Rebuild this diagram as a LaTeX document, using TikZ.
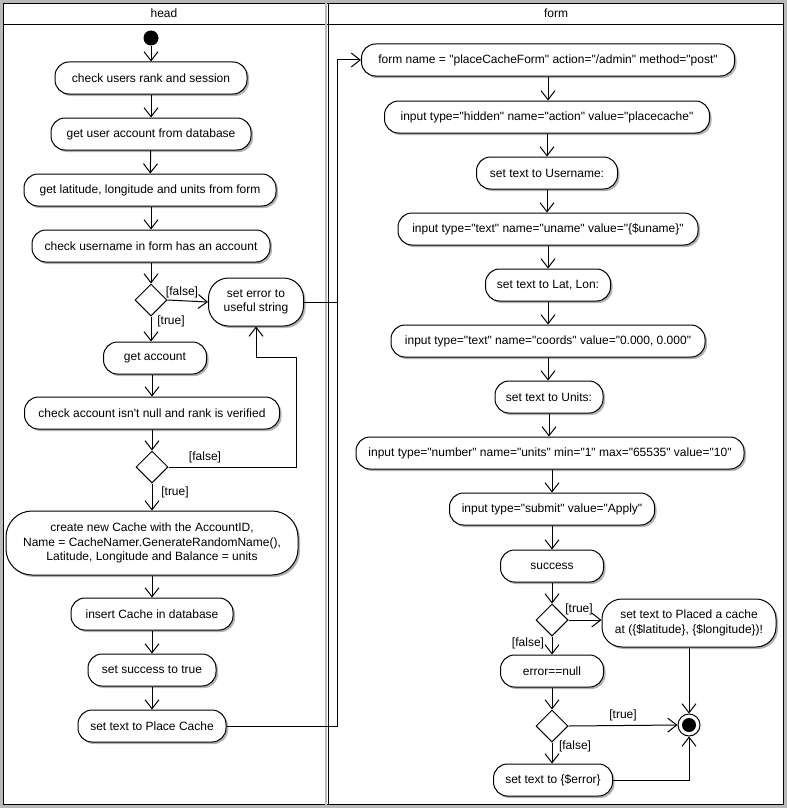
\documentclass[tikz,border=0pt]{standalone}
\usepackage{fontspec}
\setmainfont{Liberation Sans}[Ligatures=TeXOff]
\usetikzlibrary{arrows.meta,shapes.geometric,shadows}
\begin{document}
\begin{tikzpicture}[x=1pt,y=-1pt,
 every node/.style={font=\fontsize{12}{14.5}\selectfont},
 act/.style={draw, line width=1pt, fill=white, rounded corners=14pt, minimum height=32pt, inner sep=2pt, align=center,
   drop shadow={shadow xshift=2pt,shadow yshift=-2pt,fill=black,opacity=0.3}},
 dec/.style={draw, line width=1pt, diamond, minimum width=32pt, minimum height=32pt, inner sep=0pt, fill=white},
 arr/.style={line width=1pt, -{Straight Barb[length=9pt,width=14pt,line width=1pt]}},
 ln/.style={line width=1pt},
 lbl/.style={inner sep=0pt}
]
\useasboundingbox (0,0) rectangle (787,808);
% frame
\draw[gray!55, line width=3pt] (1.5,1.5) rectangle (785.5,806.5);
\draw[line width=1pt] (3.5,3.5) rectangle (783.5,804.5);
\draw[line width=1pt] (3.5,25) -- (783.5,25);
\draw[gray!55, line width=1.5pt] (326,3.5) -- (326,804.5);
\draw[line width=1pt] (328,3.5) -- (328,804.5);
\node (hhead) at (164,13) {head};
\node (hform) at (556,13) {form};

% head lane
\node[circle, fill=black, minimum size=15pt, inner sep=0pt] (start) at (151,38) {};
\node[act, minimum width=192pt] (a1) at (151,78) {check users rank and session};
\node[act, minimum width=200pt] (a2) at (151,134) {get user account from database};
\node[act, minimum width=252pt] (a3) at (150,190) {get latitude, longitude and units from form};
\node[act, minimum width=238pt] (a4) at (151,246) {check username in form has an account};
\node[dec] (d1) at (151,300) {};
\node[act, minimum width=95pt, minimum height=48pt, rounded corners=20pt] (seterr) at (256,302) {set error to\\useful string};
\node[act, minimum width=103pt] (getacc) at (155,358) {get account};
\node[act, minimum width=255pt] (a5) at (152,413) {check account isn't null and rank is verified};
\node[dec] (d2) at (152,467) {};
\node[act, minimum width=292pt, minimum height=64pt, rounded corners=26pt] (create) at (152,543) {create new Cache with the AccountID,\\Name = CacheNamer.GenerateRandomName(),\\Latitude, Longitude and Balance = units};
\node[act, minimum width=162pt] (insert) at (152,614) {insert Cache in database};
\node[act, minimum width=128pt] (succ) at (152,670) {set success to true};
\node[act, minimum width=148pt] (place) at (152,726) {set text to Place Cache};

\draw[arr] (start) -- (a1);
\draw[arr] (a1) -- (a2);
\draw[arr] (a2) -- (a3);
\draw[arr] (a3.south -| a4) -- (a4);
\draw[arr] (a4) -- (d1);
\draw[arr] (d1.east) -- (seterr.west);
\node[lbl] (l1) at (182,292) {[false]};
\draw[arr] (d1.south) -- (d1.south |- getacc.north);
\node[lbl] (l2) at (171,321) {[true]};
\draw[arr] (getacc.south -| a5) -- (a5);
\draw[arr] (a5) -- (d2);
\coordinate (lp) at (296,357);
\draw[arr] (d2.east) -| (lp) -| (seterr.south);
\node[lbl] (l3) at (205,457) {[false]};
\draw[arr] (d2) -- (create);
\node[lbl] (l4) at (175,492) {[true]};
\draw[arr] (create) -- (insert);
\draw[arr] (insert) -- (succ);
\draw[arr] (succ) -- (place);

% form lane
\node[act, minimum width=373pt] (f1) at (548,60) {form name = "placeCacheForm" action="/admin" method="post"};
\node[act, minimum width=325pt] (f2) at (547,117) {input type="hidden" name="action" value="placecache"};
\node[act, minimum width=141pt] (f3) at (547,173) {set text to Username:};
\node[act, minimum width=300pt] (f4) at (548,229) {input type="text" name="uname" value="\{\$uname\}"};
\node[act, minimum width=125pt] (f5) at (548,285) {set text to Lat, Lon:};
\node[act, minimum width=314pt] (f6) at (548,341) {input type="text" name="coords" value="0.000, 0.000"};
\node[act, minimum width=108pt] (f7) at (549,397) {set text to Units:};
\node[act, minimum width=388pt] (f8) at (550,453) {input type="number" name="units" min="1" max="65535" value="10"};
\node[act, minimum width=205pt] (f9) at (552,509) {input type="submit" value="Apply"};
\node[act, minimum width=103pt] (f10) at (552,566) {success};
\node[dec] (d3) at (552,620) {};
\node[act, minimum width=174pt, minimum height=48pt, rounded corners=20pt] (f11) at (689,623) {set text to Placed a cache\\at (\{\$latitude\}, \{\$longitude\})!};
\node[act, minimum width=103pt] (f12) at (552,671) {error==null};
\node[dec] (d4) at (552,726) {};
\node[circle, draw, line width=1pt, fill=white, minimum size=22pt, inner sep=0pt] (endo) at (689,725) {};
\node[circle, fill=black, minimum size=14pt, inner sep=0pt] (endi) at (689,725) {};
\node[act, minimum width=119pt] (f13) at (553,780) {set text to \{\$error\}};

\draw[arr] (f1.south) -- (f1.south |- f2.north);
\draw[arr] (f2.south) -- (f2.south |- f3.north);
\draw[arr] (f3.south) -- (f3.south |- f4.north);
\draw[arr] (f4.south) -- (f4.south |- f5.north);
\draw[arr] (f5.south) -- (f5.south |- f6.north);
\draw[arr] (f6.south) -- (f6.south |- f7.north);
\draw[arr] (f7.south) -- (f7.south |- f8.north);
\draw[arr] (f8.south -| f9) -- (f9.north);
\draw[arr] (f9) -- (f10);
\draw[arr] (f10) -- (d3);
\draw[arr] (d3.east) -- (d3.east -| f11.west);
\node[lbl] (l5) at (579,609) {[true]};
\draw[arr] (d3) -- (f12);
\node[lbl] (l6) at (528,643) {[false]};
\draw[arr] (f12) -- (d4);
\draw[arr] (d4.east) -- (endo.west);
\node[lbl] (l7) at (623,715) {[true]};
\draw[arr] (d4.south) -- (d4.south |- f13.north);
\node[lbl] (l8) at (575,746) {[false]};
\draw[arr] (f11.south) -- (endo.north);
\draw[arr] (f13.east) -| (endo.south);

% cross-lane
\coordinate (jx) at (337,0);
\draw[arr] (place.east) -| (jx |- f1.west) -- (f1.west);
\draw[ln] (seterr.east) -- (seterr.east -| jx);
\end{tikzpicture}
\end{document}
